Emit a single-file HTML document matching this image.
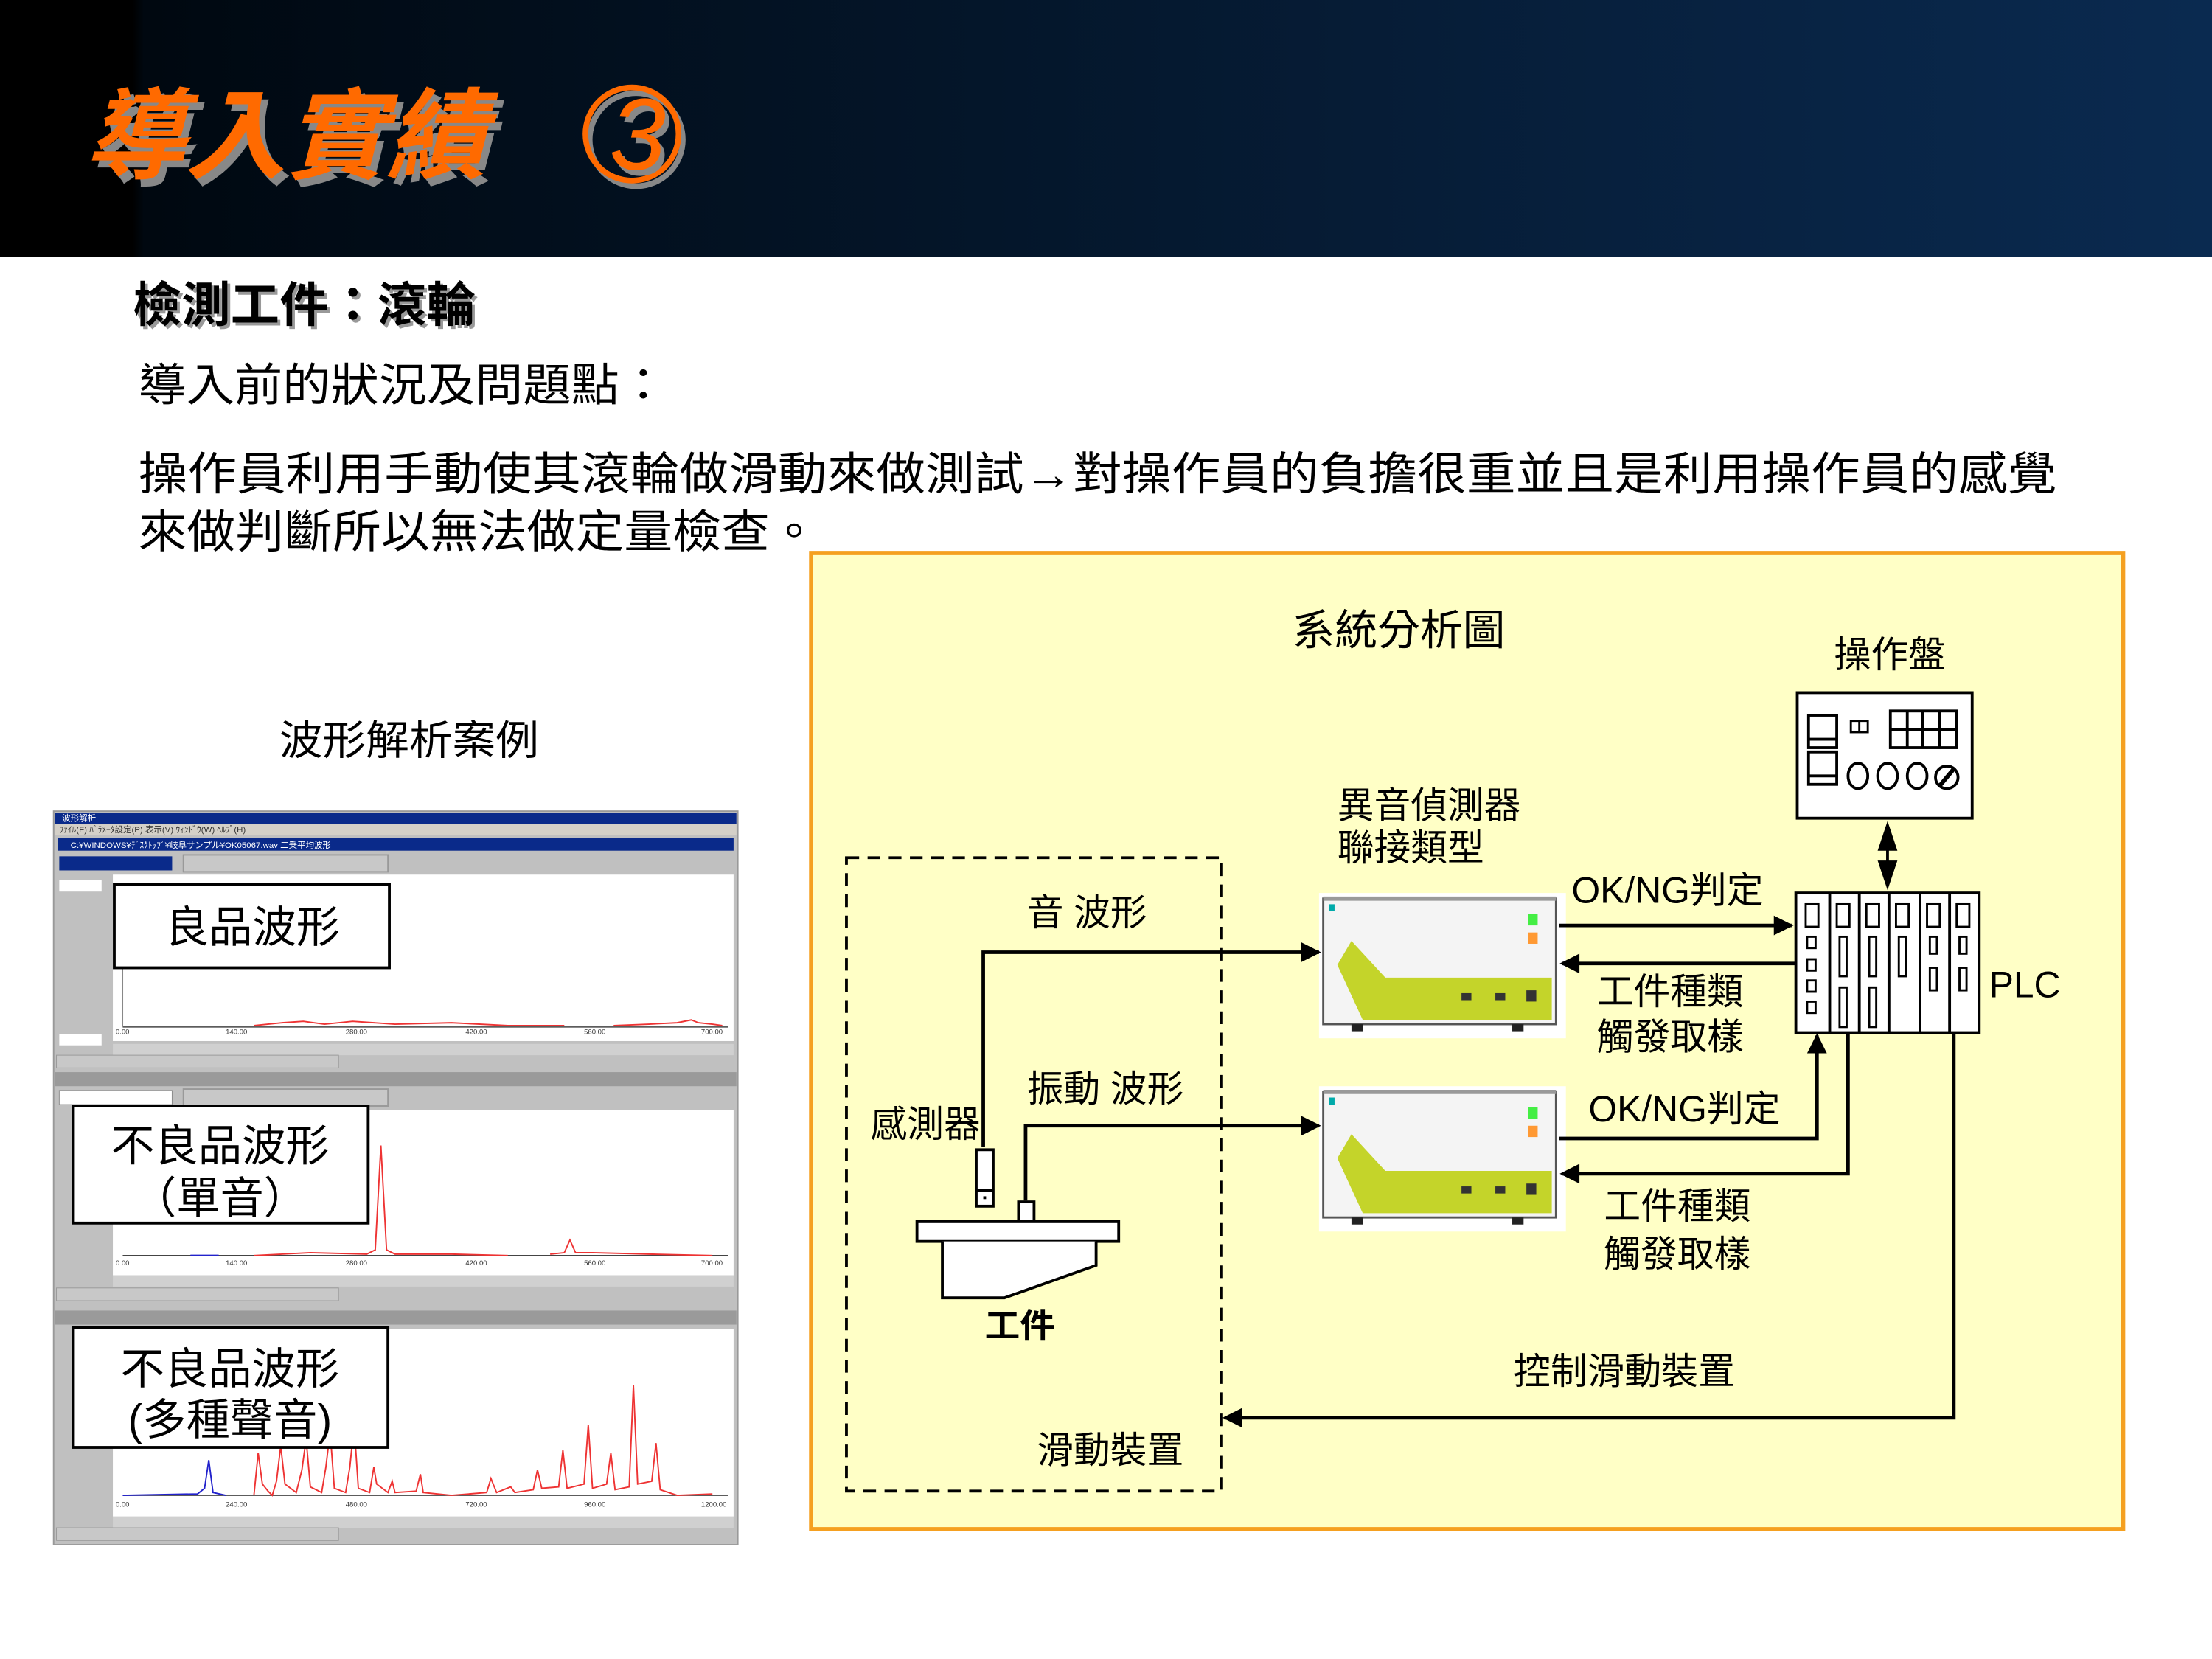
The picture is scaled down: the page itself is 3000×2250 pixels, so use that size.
<!DOCTYPE html>
<html><head><meta charset="utf-8"><style>
html,body{margin:0;padding:0;background:#fff;}
svg{display:block;}
text{font-family:"Liberation Sans","Noto Sans CJK TC",sans-serif;}
</style></head><body>
<svg width="3000" height="2250" viewBox="0 0 1568 1176" xmlns="http://www.w3.org/2000/svg">
<defs>
<linearGradient id="hd" x1="0" x2="1" y1="0" y2="0">
<stop offset="0" stop-color="#000"/><stop offset="0.06" stop-color="#000"/><stop offset="0.065" stop-color="#000810"/><stop offset="1" stop-color="#0a2a50"/>
</linearGradient>
<marker id="ab" viewBox="0 0 10 10" refX="9" refY="5" markerWidth="20" markerHeight="14" markerUnits="userSpaceOnUse" orient="auto"><path d="M0,0 L10,5 L0,10z" fill="#000"/></marker>
</defs>
<rect x="0" y="0" width="1568" height="182" fill="url(#hd)"/>
<g font-style="italic" font-weight="bold" font-size="70">
<text x="64" y="126" fill="#888" textLength="285" lengthAdjust="spacingAndGlyphs">導入實績</text>
<text x="60" y="121" fill="#ff6a00" textLength="285" lengthAdjust="spacingAndGlyphs">導入實績</text>
</g>
<g font-style="italic" font-size="72" font-family="Liberation Serif">
<circle cx="448" cy="95" r="33" fill="none" stroke="#888" stroke-width="4" transform="translate(3,4)"/>
<circle cx="448" cy="95" r="33" fill="none" stroke="#ff6a00" stroke-width="4"/>
<text x="432" y="120" fill="#888" font-family="Liberation Serif" transform="translate(3,4)">3</text>
<text x="432" y="120" fill="#ff6a00" font-family="Liberation Serif">3</text>
</g>
<text x="96" y="230" font-size="34" font-weight="bold" fill="#999" textLength="243" lengthAdjust="spacingAndGlyphs">檢測工件：滾輪</text>
<text x="94" y="228" font-size="34" font-weight="bold" fill="#000" textLength="243" lengthAdjust="spacingAndGlyphs">檢測工件：滾輪</text>
<text x="98" y="284" font-size="32" fill="#000" textLength="375" lengthAdjust="spacingAndGlyphs">導入前的狀況及問題點：</text>
<text x="98" y="347" font-size="32" fill="#000" textLength="1360" lengthAdjust="spacingAndGlyphs">操作員利用手動使其滾輪做滑動來做測試→對操作員的負擔很重並且是利用操作員的感覺</text>
<text x="98" y="388" font-size="32" fill="#000" textLength="482" lengthAdjust="spacingAndGlyphs">來做判斷所以無法做定量檢查。</text>

<text x="198" y="535" font-size="29" textLength="184" lengthAdjust="spacingAndGlyphs">波形解析案例</text>

<!-- screenshots -->
<g>
<rect x="38" y="575" width="485" height="520" fill="#c0c0c0" stroke="#999"/>
<rect x="39" y="576" width="483" height="8" fill="#0a2a8a"/>
<rect x="39" y="584" width="483" height="8" fill="#d4d0c8"/>
<g font-size="6" fill="#333"><text x="42" y="590">ﾌｧｲﾙ(F)  ﾊﾟﾗﾒｰﾀ設定(P)  表示(V)  ｳｨﾝﾄﾞｳ(W)  ﾍﾙﾌﾟ(H)</text></g>
<text x="44" y="582" font-size="6" fill="#fff">波形解析</text>
<rect x="41" y="594" width="479" height="9" fill="#0a2a8a"/>
<text x="50" y="601" font-size="6" fill="#fff">C:¥WINDOWS¥ﾃﾞｽｸﾄｯﾌﾟ¥岐阜サンプル¥OK05067.wav 二乗平均波形</text>
<rect x="42" y="607" width="80" height="10" fill="#0a2a8a"/>
<rect x="130" y="606" width="145" height="12" fill="#c8c8c8" stroke="#999"/>
<rect x="80" y="620" width="440" height="118" fill="#fff"/>
<rect x="42" y="624" width="30" height="8" fill="#fff"/>
<rect x="42" y="733" width="30" height="8" fill="#fff"/>
<rect x="80" y="740" width="440" height="8" fill="#d0d0d0"/>
<rect x="40" y="748" width="200" height="9" fill="#c8c8c8" stroke="#999" stroke-width=".5"/>
<line x1="87" y1="728" x2="516" y2="728" stroke="#444" stroke-width=".8"/>
<line x1="87" y1="626" x2="87" y2="728" stroke="#888" stroke-width=".6"/>
<path d="M180,727 L200,725 L215,724 L230,726 L250,724 L280,726 L320,725 L360,727 L400,727 M435,727 L460,726 L480,725 L490,723 L495,725 L505,726 L512,727" stroke="#e33" fill="none" stroke-width="1"/>
<g font-size="5" fill="#333"><text x="82" y="733">0.00</text><text x="160" y="733">140.00</text><text x="245" y="733">280.00</text><text x="330" y="733">420.00</text><text x="414" y="733">560.00</text><text x="497" y="733">700.00</text></g>

<rect x="39" y="760" width="483" height="10" fill="#9a9a9a"/>
<rect x="42" y="773" width="80" height="10" fill="#fff" stroke="#888" stroke-width=".5"/>
<rect x="130" y="772" width="145" height="12" fill="#c8c8c8" stroke="#999"/>
<rect x="80" y="787" width="440" height="117" fill="#fff"/>
<rect x="80" y="904" width="440" height="8" fill="#d0d0d0"/>
<rect x="40" y="913" width="200" height="9" fill="#c8c8c8" stroke="#999" stroke-width=".5"/>
<line x1="87" y1="890" x2="516" y2="890" stroke="#444" stroke-width=".8"/>
<path d="M180,890 L220,888 L260,889 L266,886 L270,812 L274,886 L280,889 L320,889 L360,890 M390,889 L400,888 L404,879 L408,888 L420,888 L460,889 L505,890" stroke="#e33" fill="none" stroke-width="1"/>
<line x1="135" y1="890" x2="155" y2="890" stroke="#22c" stroke-width="1.2"/>
<g font-size="5" fill="#333"><text x="82" y="897">0.00</text><text x="160" y="897">140.00</text><text x="245" y="897">280.00</text><text x="330" y="897">420.00</text><text x="414" y="897">560.00</text><text x="497" y="897">700.00</text></g>

<rect x="39" y="929" width="483" height="10" fill="#9a9a9a"/>
<rect x="80" y="942" width="440" height="133" fill="#fff"/>
<rect x="80" y="1075" width="440" height="8" fill="#d0d0d0"/>
<rect x="40" y="1083" width="200" height="9" fill="#c8c8c8" stroke="#999" stroke-width=".5"/>
<line x1="87" y1="1060" x2="516" y2="1060" stroke="#444" stroke-width=".8"/>
<path d="M87,1060 L140,1059 L145,1055 L148,1035 L151,1058 L160,1060" stroke="#22c" fill="none" stroke-width="1"/>
<path d="M180,1060 L183,1030 L186,1052 L190,1057 L193,1060 L196,1050 L199,1025 L202,1052 L210,1058 L214,1042 L217,1020 L220,1054 L228,1058 L231,1040 L234,1015 L237,1055 L245,1058 L248,1040 L251,1010 L254,1055 L262,1058 L265,1040 L267,1052 L275,1058 L278,1050 L280,1058 L295,1057 L298,1045 L300,1058 L320,1060 L345,1058 L348,1048 L352,1058 L362,1054 L365,1058 L378,1056 L381,1042 L384,1055 L396,1054 L399,1028 L402,1055 L414,1052 L417,1010 L420,1055 L430,1052 L433,1030 L436,1056 L446,1054 L449,982 L452,1052 L462,1050 L465,1023 L468,1056 L480,1060 L505,1059" stroke="#e33" fill="none" stroke-width="1"/>
<g font-size="5" fill="#333"><text x="82" y="1068">0.00</text><text x="160" y="1068">240.00</text><text x="245" y="1068">480.00</text><text x="330" y="1068">720.00</text><text x="414" y="1068">960.00</text><text x="497" y="1068">1200.00</text></g>
</g>
<g fill="#fff" stroke="#000" stroke-width="2">
<rect x="81" y="627" width="195" height="59"/>
<rect x="52" y="784" width="209" height="83"/>
<rect x="52" y="941" width="223" height="85"/>
</g>
<g font-size="31" text-anchor="middle">
<text x="179" y="668">良品波形</text>
<text x="156" y="823">不良品波形</text>
<text x="156" y="860">（單音）</text>
<text x="163" y="981">不良品波形</text>
<text x="163" y="1017">(多種聲音)</text>
</g>

<!-- diagram -->
<rect x="575" y="392" width="930" height="692" fill="#ffffc6" stroke="#f5a020" stroke-width="3"/>
<text x="916" y="457" font-size="30" textLength="151" lengthAdjust="spacingAndGlyphs">系統分析圖</text>
<text x="1300" y="473" font-size="26" textLength="79" lengthAdjust="spacingAndGlyphs">操作盤</text>
<rect x="600" y="608" width="266" height="449" fill="none" stroke="#000" stroke-width="2" stroke-dasharray="9,6"/>

<!-- control panel -->
<g fill="#fff" stroke="#000" stroke-width="2">
<rect x="1274" y="491" width="124" height="89"/>
<rect x="1282" y="507" width="20" height="23"/><line x1="1282" y1="524" x2="1302" y2="524"/>
<rect x="1282" y="533" width="20" height="23"/><line x1="1282" y1="550" x2="1302" y2="550"/>
<rect x="1312" y="511" width="12" height="8" stroke-width="1.5"/><line x1="1318" y1="511" x2="1318" y2="519" stroke-width="1.5"/>
<rect x="1340" y="504" width="47" height="26"/>
<line x1="1352" y1="504" x2="1352" y2="530"/><line x1="1363" y1="504" x2="1363" y2="530"/><line x1="1375" y1="504" x2="1375" y2="530"/><line x1="1340" y1="517" x2="1387" y2="517"/>
<ellipse cx="1317" cy="550" rx="7" ry="9"/><ellipse cx="1338" cy="550" rx="7" ry="9"/><ellipse cx="1359" cy="550" rx="7" ry="9"/><circle cx="1380" cy="551" r="8"/>
<line x1="1375" y1="557" x2="1385" y2="545" stroke-width="3"/>
</g>
<line x1="1338" y1="600" x2="1338" y2="612" stroke="#000" stroke-width="2"/>
<path d="M1338,582 L1345,603 L1331,603z M1338,631 L1345,610 L1331,610z" fill="#000"/>

<!-- PLC -->
<g fill="#fff" stroke="#000" stroke-width="2">
<rect x="1273" y="633" width="130" height="99"/>
<line x1="1297" y1="633" x2="1297" y2="732"/><line x1="1318" y1="633" x2="1318" y2="732"/><line x1="1339" y1="633" x2="1339" y2="732"/><line x1="1361" y1="633" x2="1361" y2="732"/><line x1="1382" y1="633" x2="1382" y2="732"/>
</g>
<g fill="none" stroke="#000" stroke-width="1.5">
<rect x="1280" y="641" width="9" height="16"/><rect x="1302" y="641" width="9" height="16"/><rect x="1323" y="641" width="9" height="16"/><rect x="1344" y="641" width="9" height="16"/><rect x="1366" y="641" width="9" height="16"/><rect x="1387" y="641" width="9" height="16"/>
<rect x="1281" y="664" width="6" height="8"/><rect x="1281" y="680" width="6" height="8"/><rect x="1281" y="695" width="6" height="8"/><rect x="1281" y="710" width="6" height="8"/>
<rect x="1304" y="664" width="5" height="28"/><rect x="1304" y="700" width="5" height="28"/>
<rect x="1325" y="664" width="5" height="28"/><rect x="1325" y="700" width="5" height="28"/>
<rect x="1346" y="664" width="5" height="28"/>
<rect x="1368" y="664" width="5" height="12"/><rect x="1368" y="686" width="5" height="16"/>
<rect x="1389" y="664" width="5" height="12"/><rect x="1389" y="686" width="5" height="16"/>
</g>
<text x="1410" y="707" font-size="26">PLC</text>

<text x="948" y="580" font-size="26" textLength="130" lengthAdjust="spacingAndGlyphs">異音偵測器</text>
<text x="948" y="610" font-size="26" textLength="104" lengthAdjust="spacingAndGlyphs">聯接類型</text>

<!-- devices -->
<g id="dev">
<rect x="935" y="633" width="175" height="103" fill="#fff"/>
<rect x="938" y="637" width="165" height="89" fill="#f4f4f4" stroke="#555" stroke-width="1.5"/>
<line x1="938" y1="637" x2="1103" y2="637" stroke="#999" stroke-width="3"/>
<path d="M958,667 L948,684 L966,723 L1100,723 L1100,693 L982,693z" fill="#c4d42a"/>
<rect x="1083" y="648" width="7" height="8" fill="#4e4"/>
<rect x="1083" y="661" width="7" height="8" fill="#f93"/>
<rect x="1036" y="704" width="7" height="5" fill="#333"/><rect x="1060" y="704" width="7" height="5" fill="#333"/><rect x="1082" y="702" width="7" height="8" fill="#333"/>
<rect x="942" y="641" width="4" height="5" fill="#0aa"/>
<rect x="958" y="726" width="8" height="5" fill="#222"/><rect x="1072" y="726" width="8" height="5" fill="#222"/>
</g>
<use href="#dev" transform="translate(0,137)"/>

<!-- sensors / workpiece -->
<g fill="#fff" stroke="#000" stroke-width="2">
<rect x="692" y="815" width="12" height="40"/><line x1="692" y1="844" x2="704" y2="844"/>
<rect x="722" y="852" width="11" height="14"/>
<rect x="650" y="866" width="143" height="14"/>
<path d="M668,880 L668,920 L712,920 L777,897 L777,880"/>
</g>
<rect x="697" y="848" width="2" height="2" fill="#000"/>
<text x="698" y="948" font-size="24" font-weight="bold" textLength="50" lengthAdjust="spacingAndGlyphs">工件</text>
<text x="617" y="806" font-size="26" textLength="78" lengthAdjust="spacingAndGlyphs">感測器</text>
<text x="728" y="656" font-size="26" textLength="85" lengthAdjust="spacingAndGlyphs">音 波形</text>
<text x="728" y="781" font-size="26" textLength="111" lengthAdjust="spacingAndGlyphs">振動 波形</text>

<g fill="none" stroke="#000" stroke-width="2.5">
<path d="M697,813 L697,675 L935,675" marker-end="url(#ab)"/>
<path d="M727,851 L727,798 L935,798" marker-end="url(#ab)"/>
<path d="M1105,656 L1270,656" marker-end="url(#ab)"/>
<path d="M1273,683 L1107,683" marker-end="url(#ab)"/>
<path d="M1105,807 L1288,807 L1288,734" marker-end="url(#ab)"/>
<path d="M1310,732 L1310,832 L1107,832" marker-end="url(#ab)"/>
<path d="M1385,732 L1385,1005 L868,1005" marker-end="url(#ab)"/>
</g>
<g font-size="26">
<text x="1114" y="640" textLength="136" lengthAdjust="spacingAndGlyphs">OK/NG判定</text>
<text x="1132" y="712" textLength="104" lengthAdjust="spacingAndGlyphs">工件種類</text>
<text x="1132" y="744" textLength="104" lengthAdjust="spacingAndGlyphs">觸發取樣</text>
<text x="1126" y="795" textLength="136" lengthAdjust="spacingAndGlyphs">OK/NG判定</text>
<text x="1137" y="864" textLength="104" lengthAdjust="spacingAndGlyphs">工件種類</text>
<text x="1137" y="898" textLength="104" lengthAdjust="spacingAndGlyphs">觸發取樣</text>
<text x="1073" y="981" textLength="157" lengthAdjust="spacingAndGlyphs">控制滑動裝置</text>
<text x="735" y="1037" textLength="104" lengthAdjust="spacingAndGlyphs">滑動裝置</text>
</g>
</svg>
</body></html>
